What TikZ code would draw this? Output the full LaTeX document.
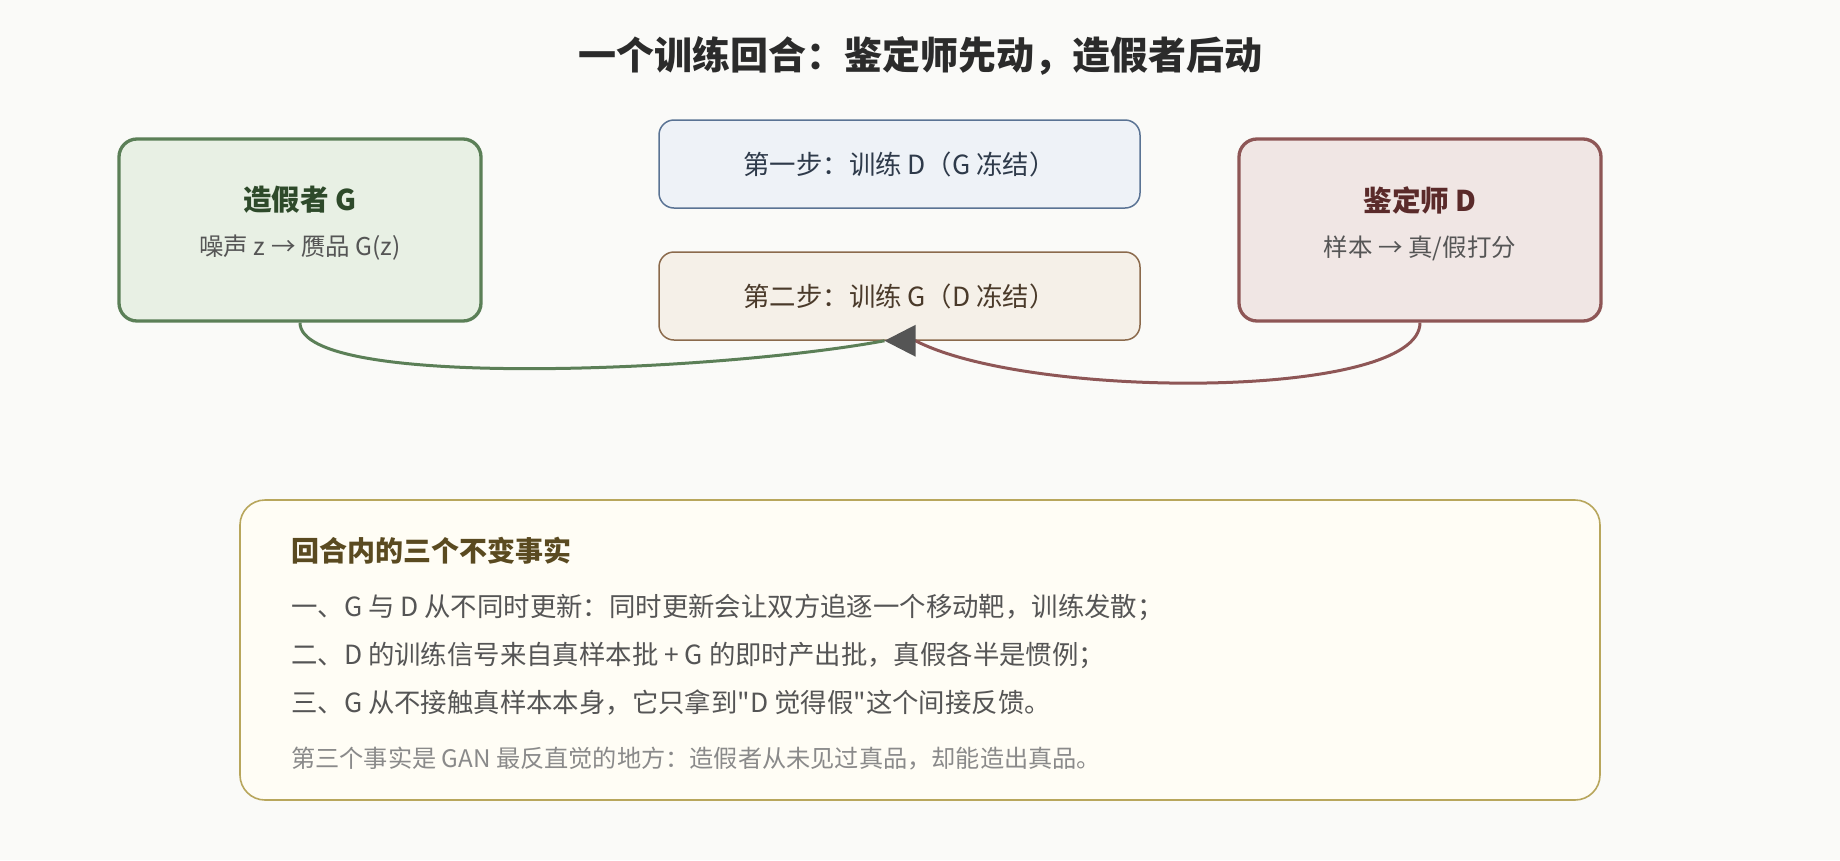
\documentclass[tikz,border=0pt]{standalone}
\usepackage{fontspec}
\setmainfont{Noto Sans CJK SC}[Ligatures=TeXOff]
\usetikzlibrary{arrows.meta,positioning}

\definecolor{paper}{HTML}{FAFAF8}
\definecolor{ink}{HTML}{2B2B2B}
\definecolor{soft}{HTML}{555555}
\definecolor{gline}{HTML}{5B7F57}
\definecolor{gfill}{HTML}{E8F0E4}
\definecolor{gtext}{HTML}{2E4A2A}
\definecolor{dline}{HTML}{8E5656}
\definecolor{dfill}{HTML}{F0E6E4}
\definecolor{dtext}{HTML}{5A2A2A}
\definecolor{oneline}{HTML}{5A7394}
\definecolor{onefill}{HTML}{EEF2F7}
\definecolor{onetext}{HTML}{2E3A4A}
\definecolor{twoline}{HTML}{8B6A4C}
\definecolor{twofill}{HTML}{F5F0E8}
\definecolor{twotext}{HTML}{4A3A2A}
\definecolor{factline}{HTML}{B8A65C}
\definecolor{factfill}{HTML}{FFFDF5}
\definecolor{facthead}{HTML}{5A4A20}
\definecolor{note}{HTML}{8A8A8A}

\begin{document}
\begin{tikzpicture}[x=1pt,y=1pt,
  card/.style={draw,line width=3.3pt,rounded corners=18pt,minimum width=362pt,minimum height=182pt,inner sep=0pt},
  stepbox/.style={draw,line width=1.5pt,rounded corners=15pt,minimum width=481pt,minimum height=88pt,inner sep=0pt,font=\fontsize{26.4}{31}\selectfont},
  playername/.style={font=\bfseries\fontsize{28.6}{34}\selectfont},
  playerrole/.style={font=\fontsize{24.5}{29}\selectfont,text=soft},
  factrow/.style={anchor=west,inner sep=0pt,font=\fontsize{26.4}{31}\selectfont,text=soft}]

\fill[paper] (0,0) rectangle (1840,-860);

\node[font=\bfseries\fontsize{38}{45}\selectfont,text=ink] (title) at (920,-56) {一个训练回合：鉴定师先动，造假者后动};

% the two players
\node[card,draw=gline,fill=gfill] (g) at (300,-230) {};
\node[playername,text=gtext] (gname) at (300,-200) {造假者 G};
\node[playerrole] (grole) at (300,-248) {噪声 z → 赝品 G(z)};

\node[card,draw=dline,fill=dfill] (d) at (1420,-230) {};
\node[playername,text=dtext] (dname) at (1420,-200) {鉴定师 D};
\node[playerrole] (drole) at (1420,-248) {样本 → 真/假打分};

% the two steps
\node[stepbox,draw=oneline,fill=onefill,text=onetext] (one) at (899.5,-164) {第一步：训练 D（G 冻结）};
\node[stepbox,draw=twoline,fill=twofill,text=twotext] (two) at (899.5,-296) {第二步：训练 G（D 冻结）};

\coordinate (tip) at ([xshift=-15pt]two.south);
\coordinate (base) at ([xshift=16pt]two.south);

\draw[gline,line width=3pt] (g.south) .. controls (300,-390) and (715,-372) .. (tip);
\draw[dline,line width=3pt,-{Triangle[length=31pt,width=31pt,color=soft]}]
  (d.south) .. controls (1420,-400) and (1030,-400) .. (base) -- (tip);

% facts
\node[draw=factline,fill=factfill,line width=1.6pt,rounded corners=25pt,minimum width=1360pt,minimum height=300pt] (facts) at (920,-650) {};
\node[factrow,font=\bfseries\fontsize{28}{33}\selectfont,text=facthead] (head) at (291,-551) {回合内的三个不变事实};
\node[factrow] (f1) at (291,-607) {一、G 与 D 从不同时更新：同时更新会让双方追逐一个移动靶，训练发散；};
\node[factrow] (f2) at (291,-655) {二、D 的训练信号来自真样本批 + G 的即时产出批，真假各半是惯例；};
\node[factrow] (f3) at (291,-703) {三、G 从不接触真样本本身，它只拿到"D 觉得假"这个间接反馈。};
\node[factrow,font=\fontsize{24.2}{29}\selectfont,text=note] (remark) at (291,-759) {第三个事实是 GAN 最反直觉的地方：造假者从未见过真品，却能造出真品。};

\end{tikzpicture}
\end{document}
